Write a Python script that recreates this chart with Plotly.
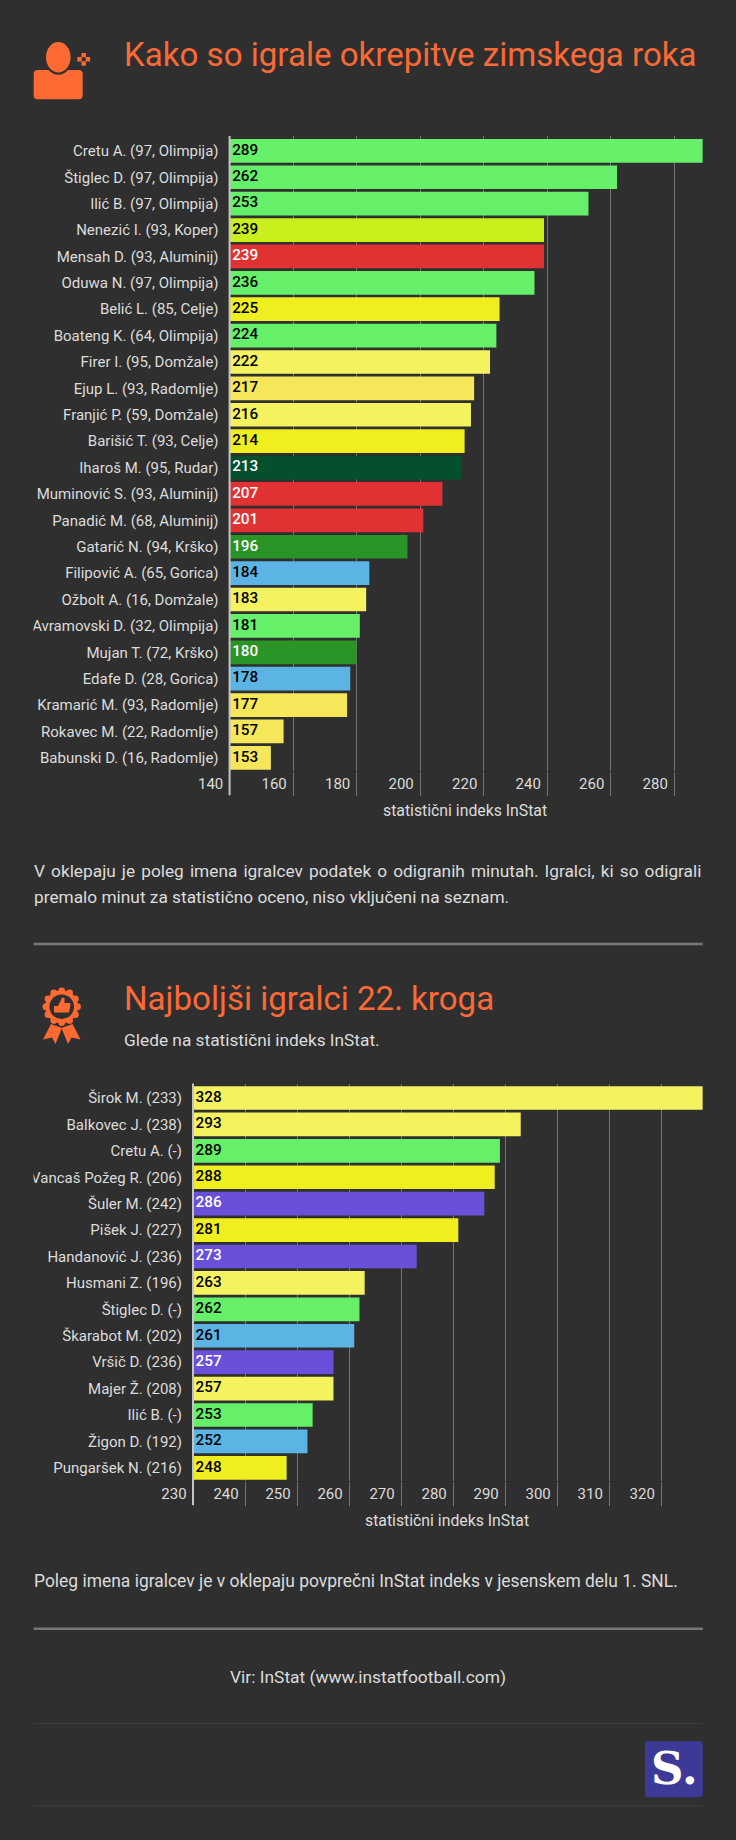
import math
import plotly.graph_objects as go

W, H = 736, 1840
BG = "#2f2f2f"
ORANGE = "#fb6a36"
ICON = "#ff6a33"
TXT = "#dcdcdc"
GRID = "#757575"
AXIS = "#c4c4c4"
FONT = "Roboto"

GREEN = "#66f06a"; LIME = "#c9f01c"; RED = "#e03232"; YELLOW = "#efee1e"
PALE = "#f4f25f"; GOLD = "#f6e75a"; DARK = "#05502c"; MID = "#2b9427"
BLUE = "#5cb4e4"; PURPLE = "#6a50d8"
WHITE_ON = {RED, DARK, MID, PURPLE}

players_a = ["Cretu A. (97, Olimpija)", "Štiglec D. (97, Olimpija)", "Ilić B. (97, Olimpija)",
             "Nenezić I. (93, Koper)", "Mensah D. (93, Aluminij)", "Oduwa N. (97, Olimpija)",
             "Belić L. (85, Celje)", "Boateng K. (64, Olimpija)", "Firer I. (95, Domžale)",
             "Ejup L. (93, Radomlje)", "Franjić P. (59, Domžale)", "Barišić T. (93, Celje)",
             "Iharoš M. (95, Rudar)", "Muminović S. (93, Aluminij)", "Panadić M. (68, Aluminij)",
             "Gatarić N. (94, Krško)", "Filipović A. (65, Gorica)", "Ožbolt A. (16, Domžale)",
             "Avramovski D. (32, Olimpija)", "Mujan T. (72, Krško)", "Edafe D. (28, Gorica)",
             "Kramarić M. (93, Radomlje)", "Rokavec M. (22, Radomlje)", "Babunski D. (16, Radomlje)"]
values_a = [289, 262, 253, 239, 239, 236, 225, 224, 222, 217, 216, 214, 213, 207, 201, 196,
            184, 183, 181, 180, 178, 177, 157, 153]
colors_a = [GREEN, GREEN, GREEN, LIME, RED, GREEN, YELLOW, GREEN, PALE, GOLD, PALE, YELLOW,
            DARK, RED, RED, MID, BLUE, PALE, GREEN, MID, BLUE, GOLD, GOLD, GOLD]

players_b = ["Širok M. (233)", "Balkovec J. (238)", "Cretu A. (-)", "Vancaš Požeg R. (206)",
             "Šuler M. (242)", "Pišek J. (227)", "Handanović J. (236)", "Husmani Z. (196)",
             "Štiglec D. (-)", "Škarabot M. (202)", "Vršič D. (236)", "Majer Ž. (208)",
             "Ilić B. (-)", "Žigon D. (192)", "Pungaršek N. (216)"]
values_b = [328, 293, 289, 288, 286, 281, 273, 263, 262, 261, 257, 257, 253, 252, 248]
colors_b = [PALE, PALE, GREEN, YELLOW, PURPLE, YELLOW, PURPLE, PALE, GREEN, BLUE, PURPLE,
            PALE, GREEN, BLUE, YELLOW]

AXIS_TITLE = "statistični indeks InStat"


def fx(x):
    return x / W


def fy(y):
    return 1 - y / H


def bar(names, vals, cols, xa, ya):
    return go.Bar(y=names, x=vals, orientation="h", xaxis=xa, yaxis=ya,
                  marker=dict(color=cols, line_width=0),
                  hoverinfo="skip", showlegend=False)


def value_labels(names, vals, cols, start, xa, ya):
    return go.Scatter(y=names, x=[start] * len(vals), xaxis=xa, yaxis=ya, mode="text",
                      text=[str(v) for v in vals], textposition="middle right", cliponaxis=False,
                      textfont=dict(family=FONT, size=15.3, weight=500,
                                    color=["#ffffff" if c in WHITE_ON else "#000000" for c in cols]),
                      hoverinfo="skip", showlegend=False)


fig = go.Figure()
fig.add_trace(bar(players_a, values_a, colors_a, "x", "y"))
fig.add_trace(bar(players_b, values_b, colors_b, "x2", "y2"))
fig.add_trace(value_labels(players_a, values_a, colors_a, 140.8, "x", "y"))
fig.add_trace(value_labels(players_b, values_b, colors_b, 230.5, "x2", "y2"))


def x_axis(lo, hi, step, left, anchor, ticklen):
    return dict(domain=[fx(left), fx(702.8)], range=[lo, hi], tick0=lo, dtick=step, anchor=anchor,
                showgrid=True, gridcolor=GRID, gridwidth=1, zeroline=False, showline=False,
                ticks="outside", ticklen=ticklen, tickcolor=GRID, tickwidth=1,
                ticklabelshift=-19, ticklabelstandoff=-25,
                tickfont=dict(family=FONT, size=15, color=TXT), automargin=False)


top_pad = {24: 0.563, 15: 0.549}


def y_axis(n, top, bottom, domain):
    return dict(domain=[fy(bottom), fy(top)], type="category", range=[n - 1 + 0.479, -top_pad[n]],
                showgrid=False, zeroline=False, showline=False, ticks="", ticklabelstandoff=10,
                tickfont=dict(family=FONT, size=15, color=TXT), automargin=False,
                anchor=domain, tickmode="linear", dtick=1)


fig.update_layout(
    width=W, height=H, autosize=False,
    margin=dict(l=0, r=0, t=0, b=0, pad=0),
    paper_bgcolor=BG, plot_bgcolor=BG,
    bargap=0.102, showlegend=False,
    font=dict(family=FONT, color=TXT),
    xaxis=x_axis(140, 289, 20, 229.6, "y", 24),
    yaxis=y_axis(24, 136, 770.5, "x"),
    xaxis2=x_axis(230, 328, 10, 193, "y2", 24),
    yaxis2=y_axis(15, 1083.5, 1480.5, "x2"),
)

ann = []


def text(s, x, y, size, color=TXT, anchor="left", weight=400, family=FONT):
    ann.append(dict(text=s, x=fx(x), y=fy(y), xref="paper", yref="paper", xanchor=anchor,
                    yanchor="middle", showarrow=False, align=anchor,
                    font=dict(family=family, size=size, color=color, weight=weight)))


note_line_1 = "V oklepaju je poleg imena igralcev podatek o odigranih minutah. Igralci, ki so odigrali"

text("Kako so igrale okrepitve zimskega roka", 122, 55, 33.1, ORANGE)
text("Najboljši igralci 22. kroga", 122, 998, 33.1, ORANGE)
text("Glede na statistični indeks InStat.", 122, 1040, 17.3, TXT)
text(note_line_1.replace(" ", " \u200a"), 31.6, 870.7, 17.3, TXT)
text("premalo minut za statistično oceno, niso vključeni na seznam.", 31.6, 896.7, 17.3, TXT)
text("Poleg imena igralcev je v oklepaju povprečni InStat indeks v jesenskem delu 1. SNL.", 31.6, 1580.7, 17.45, TXT)
text("Vir: InStat (www.instatfootball.com)", 367.6, 1676.7, 17.4, TXT, anchor="center")
text(AXIS_TITLE, 465.3, 810, 15.8, TXT, anchor="center")
text(AXIS_TITLE, 447, 1350 + 510 / 3, 15.8, TXT, anchor="center")
text("S.", 674, 1768, 45, "#ffffff", anchor="center", weight=700, family="DejaVu Serif")

shapes = []


def paper(**kw):
    kw.update(xref="paper", yref="paper")
    shapes.append(kw)


def line(x0, x1, y0, y1, color, width):
    paper(type="line", x0=fx(x0), x1=fx(x1), y0=fy(y0), y1=fy(y1),
          line=dict(color=color, width=width), layer="above")


def poly(points, color, layer="above"):
    d = "M" + " L".join(f"{fx(x):.5f},{fy(y):.5f}" for x, y in points) + " Z"
    paper(type="path", path=d, fillcolor=color, line_width=0, layer=layer)


def circle(cx, cy, rx, ry, color):
    paper(type="circle", x0=fx(cx - rx), x1=fx(cx + rx), y0=fy(cy + ry), y1=fy(cy - ry),
          fillcolor=color, line_width=0, layer="above")


def round_rect(x0, y0, x1, y1, r, color):
    d = (f"M{fx(x0 + r):.5f},{fy(y0):.5f} L{fx(x1 - r):.5f},{fy(y0):.5f} "
         f"Q{fx(x1):.5f},{fy(y0):.5f} {fx(x1):.5f},{fy(y0 + r):.5f} "
         f"L{fx(x1):.5f},{fy(y1 - r):.5f} Q{fx(x1):.5f},{fy(y1):.5f} {fx(x1 - r):.5f},{fy(y1):.5f} "
         f"L{fx(x0 + r):.5f},{fy(y1):.5f} Q{fx(x0):.5f},{fy(y1):.5f} {fx(x0):.5f},{fy(y1 - r):.5f} "
         f"L{fx(x0):.5f},{fy(y0 + r):.5f} Q{fx(x0):.5f},{fy(y0):.5f} {fx(x0 + r):.5f},{fy(y0):.5f} Z")
    paper(type="path", path=d, fillcolor=color, line_width=0, layer="above")


# clip of long labels at the left edge of the content column
paper(type="rect", x0=0, x1=fx(33.6), y0=0, y1=1, fillcolor=BG, line_width=0, layer="above")

# axes
line(229.6, 229.6, 136, 795, AXIS, 2)
line(193, 193, 1083.5, 1505, AXIS, 2)

# separators
line(33.6, 702.8, 944, 944, "#777777", 2.5)
line(33.6, 702.8, 1628.7, 1628.7, "#777777", 2.5)
line(33.6, 702.8, 1723.7, 1723.7, "#414141", 1)
line(33.6, 702.8, 1805.7, 1805.7, "#414141", 1)

# logo
round_rect(645, 1741.3, 702.8, 1797.3, 3, "#3c3a96")

# person icon
round_rect(33.7, 70, 82.7, 99.3, 4, ICON)
circle(58.3, 57.7, 14, 17, BG)
circle(58.3, 57.2, 12.3, 15.2, ICON)
for dx, dy in [(-4.2, 0), (4.2, 0), (0, -4.2), (0, 4.2)]:
    round_rect(83.7 + dx - 2.2, 59.3 + dy - 2.2, 83.7 + dx + 2.2, 59.3 + dy + 2.2, 0.3, ICON)

# rosette icon
poly([(51, 1024), (43, 1039.5), (52, 1037.5), (55.5, 1044), (62, 1028)], ICON)
poly([(72.5, 1024), (80.5, 1039.5), (71.5, 1037.5), (68, 1044), (61.5, 1028)], ICON)
for i in range(12):
    a = 2 * math.pi * i / 12
    circle(61.7 + 15.8 * math.cos(a), 1006.7 + 15.8 * math.sin(a), 3.4, 3.4, ICON)
circle(61.7, 1006.7, 16.5, 16.5, ICON)
circle(61.7, 1006.7, 12.3, 12.3, BG)
poly([(54, 1006), (58, 1006), (61, 1000), (62, 997.5), (64.5, 998), (64.5, 1003), (70, 1003),
      (70.5, 1005), (69, 1012.5), (58, 1012.5), (54, 1012.5)], ICON)

fig.update_layout(annotations=ann, shapes=shapes)

fig.write_html("out.html", config=dict(displayModeBar=False),
               post_script="document.body.style.margin='0';document.body.style.background='%s';" % BG)
